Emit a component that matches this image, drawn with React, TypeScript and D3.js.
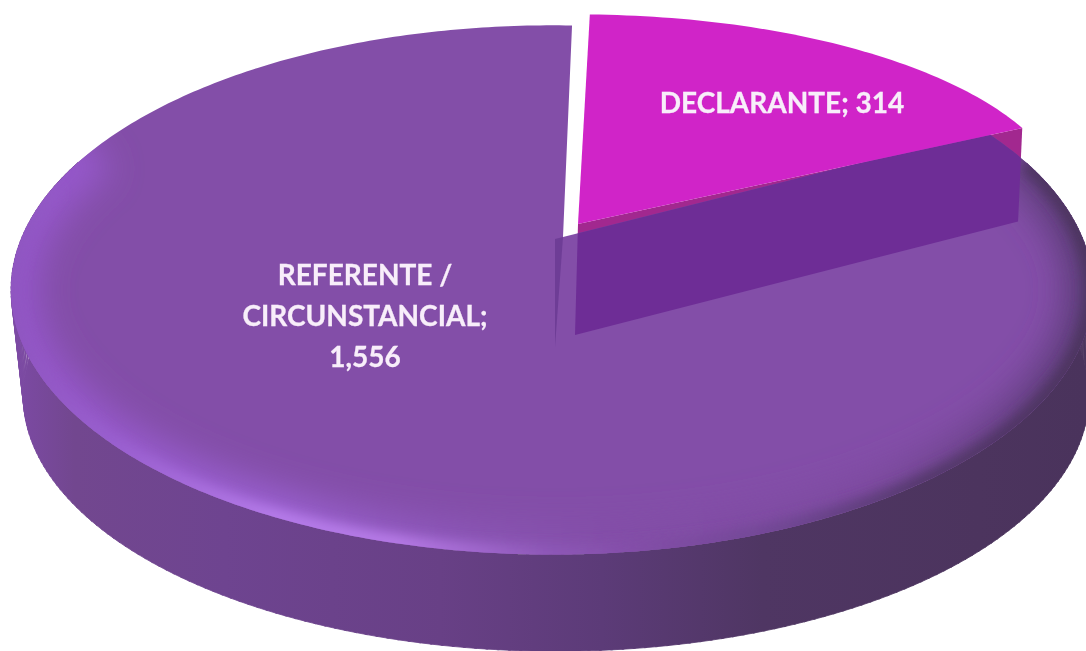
import React from "react";
import * as d3 from "d3";

const categories = ["DECLARANTE", "REFERENTE / CIRCUNSTANCIAL"];
const values = [314, 1556];
const labelLines = [["DECLARANTE; 314"], ["REFERENTE /", "CIRCUNSTANCIAL;", "1,556"]];

const W = 1086, H = 651;
const deg = Math.PI / 180;

type Disc = { cx: number; cy: number; rx: number; ry: number; k: number };
const project = (d: Disc, a: number): [number, number] => {
  const u = Math.sin(a), v = Math.cos(a), s = 1 / (1 + d.k * v);
  return [d.cx + d.rx * u * s, d.cy - d.ry * v * s];
};
const arcPts = (d: Disc, a0: number, a1: number, n = 180) =>
  d3.range(n + 1).map((i) => project(d, a0 + ((a1 - a0) * i) / n));
const line = d3.line();

const mainTop: Disc = { cx: 552, cy: 237, rx: 530, ry: 254, k: 0.2 };
const mainBase: Disc = { cx: 556, cy: 345, rx: 522, ry: 245, k: 0.2 };
const sliceTop: Disc = { cx: 578, cy: 224, rx: 490, ry: 197, k: -0.06 };
const sliceBase: Disc = { cx: 575, cy: 335, rx: 503, ry: 240, k: 0 };
const mainApex: [number, number] = [563, 237];
const mainApexBase: [number, number] = [555, 347];

const pie = d3.pie<number>().sort(null).startAngle(2.6 * deg).endAngle(362.6 * deg);
const arcs = pie(values);
const sl = arcs[0], mn = arcs[1];
const sliceShift = -1.3 * deg;

const mainPts = [mainApex, ...arcPts(mainTop, mn.startAngle, mn.endAngle, 360)] as [number, number][];
const mainPath = line(mainPts) + "Z";
const sA = sl.startAngle + sliceShift, sB = sl.endAngle + sliceShift;
const slicePts = [[sliceTop.cx, sliceTop.cy], ...arcPts(sliceTop, sA, sB, 60)] as [number, number][];
const slicePath = line(slicePts) + "Z";

const wallStrips = d3.range(72, 288, 1).map((t) => {
  const a = t * deg, b = (t + 1.2) * deg;
  return line([project(mainTop, a), project(mainTop, b), project(mainBase, b), project(mainBase, a)]) + "Z";
}).join("");

const sliceWallPath =
  line([
    [sliceTop.cx, sliceTop.cy],
    project(sliceTop, sB),
    project(sliceBase, sB),
    [sliceBase.cx, sliceBase.cy],
  ]) + "Z";
const sliverPath = line([mainApex, mainApexBase, [mainApexBase[0], mainApex[1] + 2]]) + "Z";

const softPath = line(arcPts(mainTop, 68 * deg, 292 * deg, 240)) as string;
const rimPath = line(arcPts(mainTop, 72 * deg, 282 * deg, 240)) as string;

const wallStops: [number, string][] = [
  [0, "#7d4aa6"], [0.06, "#72478f"], [0.2, "#6e4490"], [0.4, "#684086"], [0.55, "#5c3b78"], [0.7, "#4f3663"], [0.9, "#4c345e"], [1, "#4a335c"],
];
const rimStops: [number, string][] = [
  [0, "#8f55c0"], [0.1, "#9a60d0"], [0.25, "#b67cea"], [0.36, "#b67ae6"], [0.5, "#8e58b8"], [0.58, "#834ea8"], [0.72, "#6f4692"], [0.85, "#54386c"], [1, "#4c345e"],
];
const softStops: [number, string][] = [
  [0, "#9355c8"], [0.25, "#9a60d0"], [0.42, "#8c56b8"], [0.55, "#834ea8"], [0.8, "#7c4a9e"], [1, "#5c3c78"],
];

const Stops = ({ s }: { s: [number, string][] }) => (
  <>
    {s.map(([o, c], i) => (
      <stop key={i} offset={o} stopColor={c} />
    ))}
  </>
);

export default function App() {
  return (
    <svg width={W} height={H} viewBox={`0 0 ${W} ${H}`} style={{ position: "absolute", left: 0, top: 0, background: "#fff" }}>
      <defs>
        <linearGradient id="wall" gradientUnits="userSpaceOnUse" x1={10} x2={1086} y1={0} y2={0}><Stops s={wallStops} /></linearGradient>
        <linearGradient id="rim" gradientUnits="userSpaceOnUse" x1={10} x2={1086} y1={0} y2={0}><Stops s={rimStops} /></linearGradient>
        <linearGradient id="soft" gradientUnits="userSpaceOnUse" x1={10} x2={1086} y1={0} y2={0}><Stops s={softStops} /></linearGradient>
        <clipPath id="mainClip"><path d={mainPath} /></clipPath>
        <filter id="b1" x="-10%" y="-10%" width="120%" height="120%"><feGaussianBlur stdDeviation="6" /></filter>
        <filter id="b2" x="-10%" y="-10%" width="120%" height="120%"><feGaussianBlur stdDeviation="16" /></filter>
        <filter id="tb"><feGaussianBlur stdDeviation="0.45" /></filter>
      </defs>
      <path d={wallStrips} fill="url(#wall)" stroke="url(#wall)" strokeWidth={0.8} />
      <path d={sliceWallPath} fill="#a2288f" />
      <path d={mainPath} fill="#834ea8" />
      <g clipPath="url(#mainClip)">
        <path d={softPath} fill="none" stroke="url(#soft)" strokeWidth={56} filter="url(#b2)" />
        <path d={rimPath} fill="none" stroke="url(#rim)" strokeWidth={18} filter="url(#b1)" />
        <path d={sliceWallPath} fill="#6e2d96" />
        <path d={sliverPath} fill="#6e3d96" />
      </g>
      <path d={slicePath} fill="#d024c8" />
      <g fontFamily="Lato" fontWeight={700} fontSize={28} fill="#f8eefa" stroke="#f8eefa" strokeWidth={0.3} textAnchor="middle" filter="url(#tb)">
        <text x={782} y={113}>{labelLines[0][0]}</text>
        {labelLines[1].map((t, i) => (
          <text key={i} x={365} y={285 + i * 41}>{t}</text>
        ))}
      </g>
    </svg>
  );
}
